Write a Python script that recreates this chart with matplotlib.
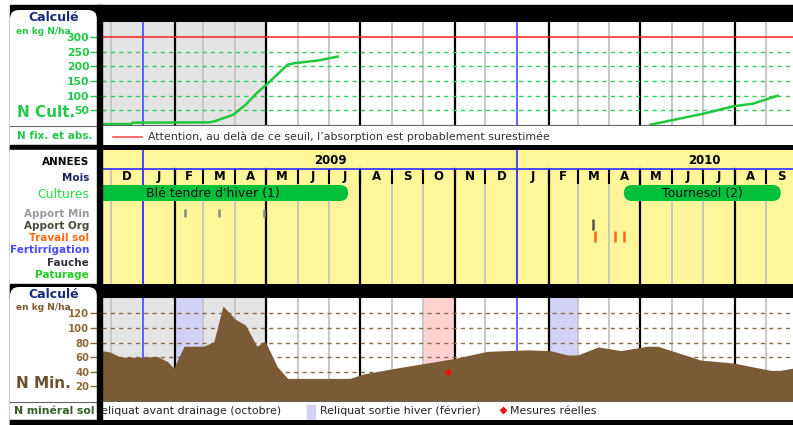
import numpy as np
import matplotlib
matplotlib.use("Agg")
import matplotlib.pyplot as plt
from matplotlib.patches import Rectangle, FancyBboxPatch

# ---- data -----------------------------------------------------------------
DEBUT = np.datetime64("2008-12-01")   # day 0 of the time axis
X_MIN, X_MAX = -9, 665                # visible window (days since DEBUT)

# N absorbed by the crops (kg N/ha)
ble_jours = [-9, 19, 21, 95, 100, 119, 131, 142, 152, 172, 178, 201, 221]
ble_n = [3, 3, 8, 9, 12, 35, 69, 109, 140, 206, 211, 220, 234]
tournesol_jours = [526, 552, 578, 607, 626, 650]
tournesol_n = [1, 20, 39, 64, 73, 100]
seuil_absorption = 300

# calculated soil mineral N (kg N/ha)
nmin_jours = [-9, -1, 9, 31, 45, 55, 61, 71, 90, 100,
              109, 121, 131, 142, 150, 162, 172, 233, 246, 282,
              334, 367, 406, 428, 445, 455, 475, 497, 523, 533,
              575, 607, 643, 653, 665]
nmin_vals = [69, 67, 60, 60, 61, 54, 45, 75, 75, 81,
             130, 112, 104, 75, 82, 47, 31, 31, 37, 46,
             58, 68, 70, 69, 63, 63, 74, 69, 75, 75,
             56, 52, 42, 42, 45]
mesures_jours = [328]
mesures_vals = [40]

# crops and field operations
cultures = ["Blé tendre d'hiver (1)", "Tournesol (2)"]
cultures_debut = [-33, 500]
cultures_fin = [231, 653]
apport_min_jours = [72, 105, 149]
apport_org_jours = [470]
travail_sol_jours = [472, 491, 500]

annees = [2009, 2010]
reliquat_drainage = [("2009-10-01", "2009-11-01")]
reliquat_hiver = [("2009-02-01", "2009-03-01"), ("2010-02-01", "2010-03-01")]
fin_grisee = "2009-05-01"

lignes = ["ANNEES", "Mois", "Cultures", "Apport Min", "Apport Org",
          "Travail sol", "Fertirrigation", "Fauche", "Paturage"]
lignes_couleurs = ["black", "#1c2260", "#22dd44", "#9a9a9a", "#4a4a3a",
                   "#ff6a10", "#4a4aff", "#333340", "#22cc22"]


def jour(d):
    return int((np.datetime64(d) - DEBUT).astype(int))


mois = np.arange(np.datetime64("2008-12"), np.datetime64("2010-10"), dtype="datetime64[M]")
mois_jours = (mois.astype("datetime64[D]") - DEBUT).astype(int)
mois_fin = ((mois + 1).astype("datetime64[D]") - DEBUT).astype(int)
mois_num = mois.astype(int) % 12
INITIALES = "JFMAMJJASOND"

# ---- layout (figure pixels) -----------------------------------------------
W, H = 793, 425
fig = plt.figure(figsize=(W / 100, H / 100), dpi=100)
fig.patch.set_facecolor("white")


def axes_px(x0, y0, x1, y1, **kw):
    return fig.add_axes([x0 / W, 1 - y1 / H, (x1 - x0) / W, (y1 - y0) / H], **kw)


BLEU = "#3a3aff"
VERT = "#22c84a"
BRUN = "#7a5b35"
BRUN_TXT = "#8b6b3e"
NAVY = "#1a2a7a"
JAUNE = "#fff699"


def style_mois(m):
    if m == 0:
        return BLEU, 1.1
    if m in (1, 4, 7, 10):
        return "black", 1.6
    return "#c4c4c4", 1.3


def grille_mois(ax, ymin=0.0, ymax=1.0):
    for j, m in zip(mois_jours, mois_num):
        c, lw = style_mois(m)
        ax.axvline(j, ymin=ymin, ymax=ymax, color=c, lw=lw, zorder=1)


# background frame and label panels
bg = axes_px(0, 0, W, H, zorder=-10)
bg.set_xlim(0, W)
bg.set_ylim(H, 0)
bg.axis("off")
bg.add_patch(Rectangle((10, 5), W - 10, H - 5, color="black"))
bg.add_patch(FancyBboxPatch((10, 10), 87, 150, boxstyle="round,pad=0,rounding_size=9",
                            fc="white", ec="none"))
bg.add_patch(Rectangle((10, 145), W - 10, 5, color="black"))
bg.add_patch(Rectangle((10, 150), 87, 134, color="white"))
bg.add_patch(Rectangle((10, 284), W - 10, 14, color="black"))
bg.add_patch(FancyBboxPatch((10, 287), 87, 150, boxstyle="round,pad=0,rounding_size=9",
                            fc="white", ec="none"))
bg.add_patch(Rectangle((10, 420), W - 10, 5, color="black"))
bg.plot([10, 97], [125.5, 125.5], color="#666666", lw=0.8)
bg.plot([10, 97], [401.5, 401.5], color="#666666", lw=0.8)

bg.text(54, 17, "Calculé", color=NAVY, fontsize=9, fontweight="bold", ha="center", va="center")
bg.text(16, 31, "en kg N/ha", color=VERT, fontsize=6.5, fontweight="bold", ha="left", va="center")
bg.text(17, 112, "N Cult.", color=VERT, fontsize=11, fontweight="bold", ha="left", va="center")
bg.text(17, 136, "N fix. et abs.", color=VERT, fontsize=7.5, fontweight="bold", ha="left", va="center")
bg.text(54, 295, "Calculé", color=NAVY, fontsize=9, fontweight="bold", ha="center", va="center")
bg.text(16, 307, "en kg N/ha", color=BRUN, fontsize=6.5, fontweight="bold", ha="left", va="center")
bg.text(16, 384, "N Min.", color="#6b5030", fontsize=11, fontweight="bold", ha="left", va="center")
bg.text(14, 411, "N minéral sol", color="#355e2a", fontsize=7.8, fontweight="bold", ha="left", va="center")

# ---- N absorbed by the crops ----------------------------------------------
ax1 = axes_px(102, 22, W, 125)
ax1.set_xlim(X_MIN, X_MAX)
ax1.set_ylim(0, 352)
ax1.axvspan(X_MIN, jour(fin_grisee), color="#e4e4e4", zorder=0)
grille_mois(ax1)
for v in range(50, 300, 50):
    ax1.axhline(v, color="#33cc55", lw=1, ls=(0, (3, 3)), zorder=1.5)
ax1.axhline(seuil_absorption, color="#ff2020", lw=1.1, zorder=2)
ax1.plot(ble_jours, ble_n, color="#1ec83c", lw=1.8, zorder=3)
ax1.plot(tournesol_jours, tournesol_n, color="#1ec83c", lw=1.8, zorder=3)
ax1.set_yticks(range(50, 301, 50))
ax1.set_xticks([])
ax1.tick_params(axis="y", length=8.6, width=1, color=VERT, pad=0.5,
                labelsize=7.8, labelcolor=VERT)
for t in ax1.get_yticklabels():
    t.set_fontweight("bold")
for s in ax1.spines.values():
    s.set_visible(False)

leg1 = axes_px(102, 125, W, 145)
leg1.set_xlim(0, W - 102)
leg1.set_ylim(20, 0)
leg1.set_xticks([])
leg1.set_yticks([])
for k, s in leg1.spines.items():
    s.set_visible(k == "top")
leg1.spines["top"].set_color("#666666")
leg1.plot([11, 40], [12, 12], color="#ff4040", lw=1.1)
leg1.text(46, 12, "Attention, au delà de ce seuil, l’absorption est probablement surestimée",
          fontsize=7.95, color="#333333", va="center", ha="left")

# ---- crop calendar ---------------------------------------------------------
ax2 = axes_px(102, 150, W, 284)
ax2.set_facecolor(JAUNE)
ax2.set_xlim(X_MIN, X_MAX)
ax2.set_ylim(134, 0)
ANNEE_Y, MOIS_Y0, MOIS_Y1 = 10.7, 19, 34
rang = [ANNEE_Y, 26.7, 43, 62.7, 75.3, 87.3, 99.3, 111.7, 124]

grille_mois(ax2, 0, (134 - MOIS_Y0) / 134)
for j, m in zip(mois_jours, mois_num):
    if m == 0:
        ax2.axvline(j, color=BLEU, lw=1.3, zorder=2)
    elif j > X_MIN + 15:
        ax2.vlines(j, MOIS_Y0, MOIS_Y1, color="black", lw=1.5, zorder=2)
ax2.axhline(MOIS_Y0, color=BLEU, lw=1.3, zorder=2)

for a in annees:
    centre = (jour(f"{a}-01-01") + jour(f"{a + 1}-01-01")) / 2
    ax2.text(centre, ANNEE_Y, str(a), fontsize=8.5, fontweight="bold",
             ha="center", va="center", clip_on=True)
for j0, j1, m in zip(mois_jours, mois_fin, mois_num):
    ax2.text((j0 + j1) / 2, rang[1], INITIALES[m], fontsize=8.5, fontweight="bold",
             ha="center", va="center", clip_on=True)

for nom, d0, d1 in zip(cultures, cultures_debut, cultures_fin):
    ax2.add_patch(FancyBboxPatch((d0, 35), d1 - d0, 16,
                                 boxstyle="round,pad=0,rounding_size=8",
                                 fc="#00c03c", ec="none", zorder=3))
    ax2.text((d0 + d1) / 2, rang[2], nom, fontsize=9, ha="center", va="center",
             color="#111111", zorder=4)

ax2.vlines(apport_min_jours, rang[3] - 4, rang[3] + 4, color="#8a8a8a", lw=1.8, zorder=4)
ax2.vlines(apport_org_jours, rang[4] - 6, rang[4] + 5, color="#55553f", lw=1.8, zorder=4)
ax2.vlines(travail_sol_jours, rang[5] - 6, rang[5] + 5, color="#ff6a10", lw=1.8, zorder=4)

ax2.set_xticks([])
ax2.set_yticks(rang)
ax2.set_yticklabels(lignes)
ax2.tick_params(axis="y", length=0, pad=9.4)
for t, c in zip(ax2.get_yticklabels(), lignes_couleurs):
    t.set_color(c)
    if t.get_text() == "Cultures":
        t.set_fontsize(9)
    else:
        t.set_fontsize(7.5)
        t.set_fontweight("bold")
for s in ax2.spines.values():
    s.set_visible(False)

# ---- soil mineral N --------------------------------------------------------
ax3 = axes_px(102, 298, W, 401)
ax3.set_xlim(X_MIN, X_MAX)
ax3.set_ylim(0, 141)
ax3.axvspan(X_MIN, jour(fin_grisee), color="#e4e4e4", zorder=0)
for d0, d1 in reliquat_drainage:
    ax3.axvspan(jour(d0), jour(d1), color="#ffd2d2", zorder=0.5, lw=0)
for d0, d1 in reliquat_hiver:
    ax3.axvspan(jour(d0), jour(d1), color="#d2d2f8", zorder=0.5, lw=0)
grille_mois(ax3)
for v in range(20, 121, 20):
    ax3.axhline(v, color="#8b6b45", lw=1, ls=(0, (3, 3)), zorder=1.5)
ax3.fill_between(nmin_jours, nmin_vals, 0, color=BRUN, lw=0, zorder=3)
ax3.scatter(mesures_jours, mesures_vals, marker="D", s=9, color="#ee1111", zorder=4)
ax3.set_yticks(range(20, 121, 20))
ax3.set_xticks([])
ax3.tick_params(axis="y", length=8.6, width=1, color=BRUN_TXT, pad=0.5,
                labelsize=7.3, labelcolor=BRUN_TXT)
for t in ax3.get_yticklabels():
    t.set_fontweight("bold")
for s in ax3.spines.values():
    s.set_visible(False)

leg2 = axes_px(102, 401, W, 420)
leg2.set_xlim(0, W - 102)
leg2.set_ylim(19, 0)
leg2.set_xticks([])
leg2.set_yticks([])
for k, s in leg2.spines.items():
    s.set_visible(k == "top")
leg2.spines["top"].set_color("#666666")
leg2.add_patch(Rectangle((-24, 4), 8, 14, color="#ffd2d2", clip_on=True))
leg2.text(-8.5, 10, "Reliquat avant drainage (octobre)", fontsize=7.9, color="#222222",
          va="center", ha="left", clip_on=True)
leg2.add_patch(Rectangle((205, 4), 8, 14, color="#d2d2f8"))
leg2.text(218, 10, "Reliquat sortie hiver (février)", fontsize=7.9, color="#222222",
          va="center", ha="left")
leg2.scatter([401], [9], marker="D", s=9, color="#ee1111")
leg2.text(408, 10, "Mesures réelles", fontsize=7.9, color="#222222", va="center", ha="left")

# vertical separator between the labels and the plots
ov = axes_px(0, 0, W, H, zorder=10)
ov.set_xlim(0, W)
ov.set_ylim(H, 0)
ov.axis("off")
ov.add_patch(Rectangle((97, 5), 5, H - 5, color="black"))

fig.savefig("out.png", dpi=100)
